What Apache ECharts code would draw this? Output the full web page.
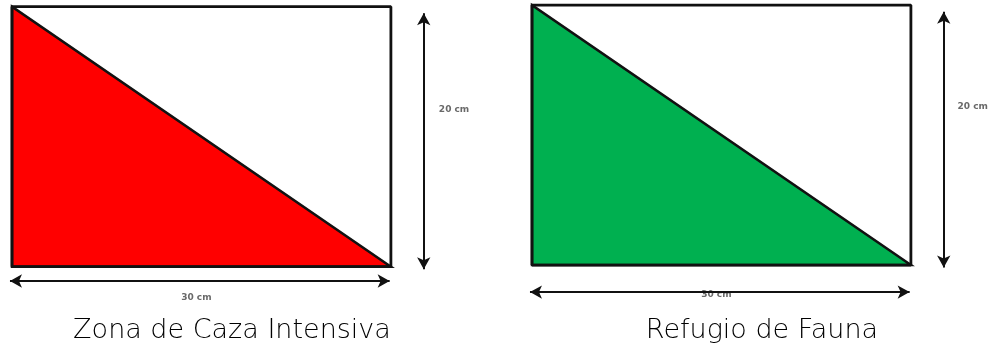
<!DOCTYPE html>
<html>
<head>
<meta charset="utf-8">
<script src="https://cdn.jsdelivr.net/npm/echarts@6/dist/echarts.min.js"></script>
<style>html,body{margin:0;padding:0;background:#fff}#c{width:994px;height:349px}</style>
</head>
<body>
<div id="c"></div>
<script>
// ---- data ----
const panelTitles = ['Zona de Caza Intensiva', 'Refugio de Fauna'];
const widthCm = [30, 30];
const heightCm = [20, 20];
const widthLabels = ['30 cm', '30 cm'];
const heightLabels = ['20 cm', '20 cm'];

// ---- styles / layout (cm extents of each drawing area incl. dimension arrows) ----
const fillColors = ['#ff0000', '#00b050'];
const pxPerCmX = 12.63, pxPerCmY = 13;
const rectOrigin = [[12, 266.7], [532, 265]];   // pixel of rectangle's bottom-left corner
const xPad = [-0.5, 36.2];    // axis min / max in cm
const yPad = [-3, 20.4];
const hArrowY = [-1.1, -2.08];
const hLabelY = [-2.35, -2.3];
const vArrowX = [32.6, 32.6];
const vLabelX = [35.0, 34.9];
const vLabelY = [12.1, 12.2];
const titleX = [232, 762];

const gridBoxes = rectOrigin.map(o => ({
  left: o[0] + xPad[0] * pxPerCmX,
  top: o[1] - yPad[1] * pxPerCmY,
  width: (xPad[1] - xPad[0]) * pxPerCmX,
  height: (yPad[1] - yPad[0]) * pxPerCmY
}));

const chart = echarts.init(document.getElementById('c'));
const series = [];
const graphic = [];
panelTitles.forEach((t, i) => {
  const w = widthCm[i], h = heightCm[i];
  series.push({
    type: 'custom', xAxisIndex: i, yAxisIndex: i, clip: false,
    data: [[w, h]],
    renderItem: (params, api) => {
      const a = api.coord([0, h]), b = api.coord([0, 0]), c = api.coord([w, 0]);
      return {type: 'polygon', shape: {points: [a, b, c]}, style: {fill: fillColors[i], stroke: '#111', lineWidth: 2.5}};
    },
    z: 2
  });
  series.push({
    type: 'line', xAxisIndex: i, yAxisIndex: i, clip: false, symbol: 'none', silent: true,
    data: [[0, 0], [0, h], [w, h], [w, 0], [0, 0]],
    lineStyle: {color: '#111', width: 2.8},
    z: 3,
    markLine: {
      silent: true, symbol: ['arrow', 'arrow'], symbolSize: [10, 12], label: {show: false},
      lineStyle: {color: '#111', width: 2, type: 'solid'},
      data: [
        [{coord: [-0.16, hArrowY[i]]}, {coord: [w - 0.1, hArrowY[i]]}],
        [{coord: [vArrowX[i], h - 0.5]}, {coord: [vArrowX[i], -0.2]}]
      ]
    }
  });
  series.push({
    type: 'scatter', xAxisIndex: i, yAxisIndex: i, clip: false, symbolSize: 0, silent: true,
    data: [
      {value: [w / 2 - 0.4, hLabelY[i]], label: {formatter: widthLabels[i]}},
      {value: [vLabelX[i], vLabelY[i]], label: {formatter: heightLabels[i]}}
    ],
    label: {show: true, position: 'inside', color: '#444', fontSize: 9, fontWeight: 'bold', fontFamily: 'DejaVu Sans'},
    z: 4
  });
  graphic.push({
    type: 'text', x: titleX[i], y: 331,
    style: {text: t, fill: '#000', font: '200 27px "DejaVu Sans"', textAlign: 'center', textVerticalAlign: 'middle'}
  });
});

chart.setOption({
  animation: false,
  grid: gridBoxes,
  xAxis: gridBoxes.map((g, i) => ({type: 'value', gridIndex: i, min: xPad[0], max: xPad[1], show: false})),
  yAxis: gridBoxes.map((g, i) => ({type: 'value', gridIndex: i, min: yPad[0], max: yPad[1], show: false})),
  series: series,
  graphic: graphic
});
</script>
</body>
</html>
